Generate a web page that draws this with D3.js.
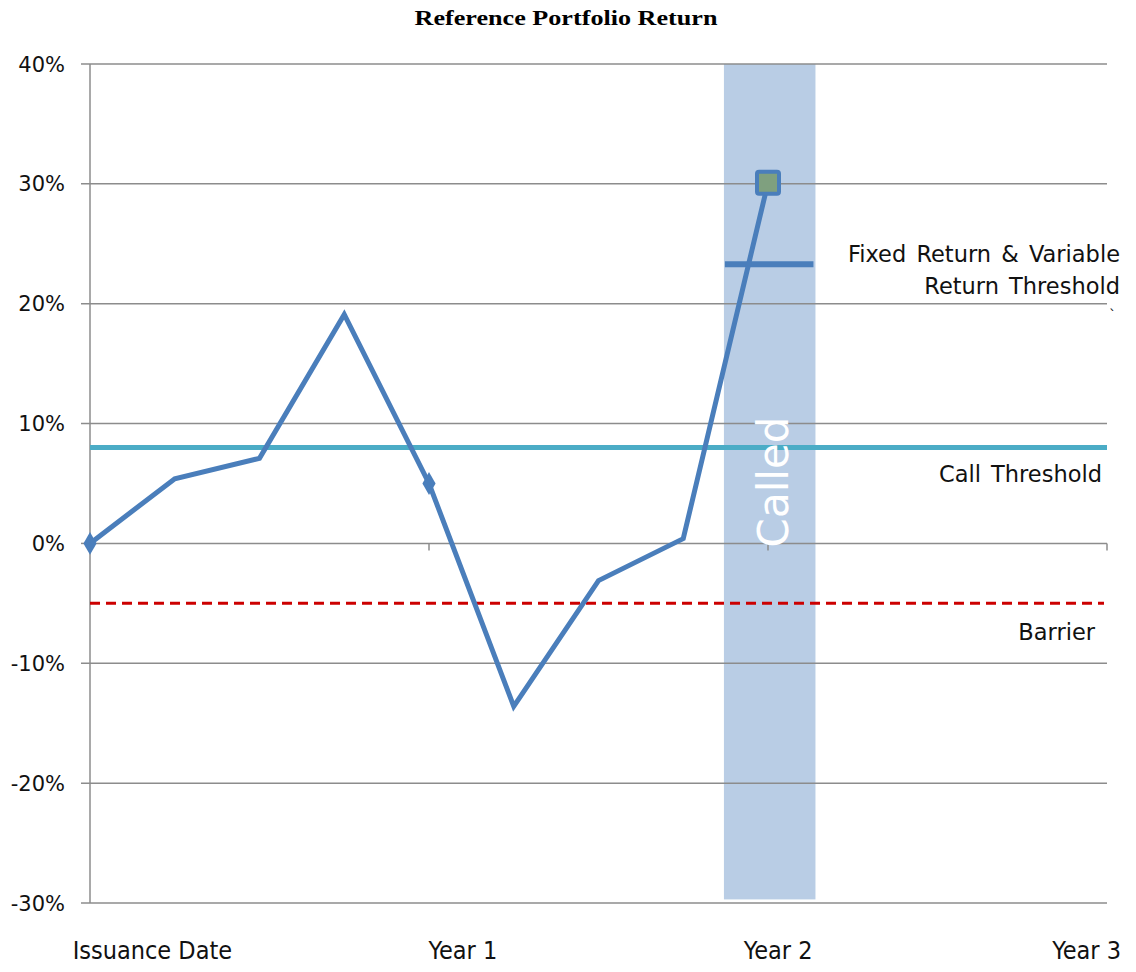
<!DOCTYPE html>
<html><head><meta charset="utf-8">
<script src="https://cdn.jsdelivr.net/npm/d3@7"></script>
<style>body{margin:0;background:#fff}</style>
</head><body>
<svg id="c" width="1136" height="972"></svg>
<script>
// Data
const periods = [0, 0.25, 0.5, 0.75, 1, 1.25, 1.5, 1.75, 2];           // years
const returns = [0, 5.4, 7.1, 19.1, 5.0, -13.6, -3.1, 0.4, 30.1];       // %
const yTicks = [40, 30, 20, 10, 0, -10, -20, -30];
const xTickYears = [0, 1, 2, 3];
const xLabels = ["Issuance Date", "Year 1", "Year 2", "Year 3"];
const xLabelAt = [0.184, 1.10, 2.03, 2.94];   // label centres (years)
const callThreshold = 8;
const barrier = -5;
const fixedReturnThreshold = 23.3;
const calledBand = [1.87, 2.14];   // years

const svg = d3.select("#c");
const x = d3.scaleLinear().domain([0, 3]).range([90, 1107]);
const y = d3.scaleLinear().domain([-30, 40]).range([903, 64]);
const grid = "#8c8c8c";

// title
svg.append("text").attr("x", 566).attr("y", 25).attr("text-anchor", "middle")
  .attr("font-family", "Liberation Serif, Times New Roman, serif").attr("font-weight", "bold")
  .attr("font-size", 21).attr("textLength", 303).attr("lengthAdjust", "spacingAndGlyphs")
  .text("Reference Portfolio Return");

// called band
svg.append("rect").attr("x", x(calledBand[0])).attr("width", x(calledBand[1]) - x(calledBand[0]))
  .attr("y", y(40)).attr("height", y(-29.7) - y(40)).attr("fill", "#b9cde5");

// gridlines
svg.append("g").selectAll("line").data(yTicks.filter(d => d !== 0)).join("line")
  .attr("x1", 81).attr("x2", 1107).attr("y1", d => y(d)).attr("y2", d => y(d))
  .attr("stroke", grid).attr("stroke-width", 1.5);

// y axis
svg.append("line").attr("x1", 90).attr("x2", 90).attr("y1", y(40)).attr("y2", y(-30))
  .attr("stroke", grid).attr("stroke-width", 1.5);
svg.append("line").attr("x1", 81).attr("x2", 90).attr("y1", y(0)).attr("y2", y(0))
  .attr("stroke", grid).attr("stroke-width", 1.5);
svg.append("g").selectAll("text").data(yTicks).join("text")
  .attr("x", 65).attr("y", d => y(d) + 7.5).attr("text-anchor", "end")
  .attr("font-family", "DejaVu Sans, sans-serif").attr("font-size", 21).attr("fill", "#111")
  .text(d => d + "%");

// x axis at 0
svg.append("line").attr("x1", 90).attr("x2", 1107).attr("y1", y(0)).attr("y2", y(0))
  .attr("stroke", grid).attr("stroke-width", 1.5);
svg.append("g").selectAll("line").data(xTickYears.slice(1)).join("line")
  .attr("x1", d => x(d)).attr("x2", d => x(d)).attr("y1", y(0)).attr("y2", y(0) + 7)
  .attr("stroke", grid).attr("stroke-width", 1.5);
svg.append("g").selectAll("text").data(xLabels).join("text")
  .attr("x", (d, i) => x(xLabelAt[i])).attr("y", 959).attr("text-anchor", "middle")
  .attr("font-family", "DejaVu Sans Condensed, DejaVu Sans, sans-serif").attr("font-size", 25).attr("fill", "#111")
  .text(d => d);

// call threshold
svg.append("line").attr("x1", 90).attr("x2", 1107).attr("y1", y(callThreshold)).attr("y2", y(callThreshold))
  .attr("stroke", "#4bacc6").attr("stroke-width", 5);
// barrier
svg.append("line").attr("x1", 90).attr("x2", 1104).attr("y1", y(barrier)).attr("y2", y(barrier))
  .attr("stroke", "#cc0000").attr("stroke-width", 3).attr("stroke-dasharray", "10,6");

// "Called" text
svg.append("text").attr("transform", `translate(${x(2) + 20},${y(0) + 4}) rotate(-90)`)
  .attr("font-family", "DejaVu Sans, sans-serif").attr("font-size", 42).attr("fill", "#fff")
  .text("Called");

// fixed return threshold
svg.append("line").attr("x1", x(calledBand[0]) + 1).attr("x2", x(calledBand[1]) - 2)
  .attr("y1", y(fixedReturnThreshold)).attr("y2", y(fixedReturnThreshold))
  .attr("stroke", "#4a7ebb").attr("stroke-width", 6);

// series
const pts = periods.map((p, i) => [p, returns[i]]);
svg.append("path").datum(pts)
  .attr("d", d3.line().x(d => x(d[0])).y(d => y(d[1])))
  .attr("fill", "none").attr("stroke", "#4a7ebb").attr("stroke-width", 5).attr("stroke-linejoin", "miter");
// diamond markers
svg.append("g").selectAll("path").data([pts[0], pts[4]]).join("path")
  .attr("transform", d => `translate(${x(d[0])},${y(d[1])})`)
  .attr("d", d3.symbol(d3.symbolDiamond, 150)).attr("fill", "#4a7ebb");
// final square
const last = pts[pts.length - 1];
svg.append("rect").attr("x", x(last[0]) - 11).attr("y", y(last[1]) - 11).attr("width", 22).attr("height", 22)
  .attr("rx", 2).attr("fill", "#7fa07f").attr("stroke", "#4a7ebb").attr("stroke-width", 4);

// annotations
const ann = svg.append("g").attr("font-family", "DejaVu Sans, sans-serif").attr("font-size", 22.5)
  .attr("fill", "#111").attr("text-anchor", "end");
ann.append("text").attr("x", 1120).attr("y", 262).attr("word-spacing", 3).text("Fixed Return & Variable");
ann.append("text").attr("x", 1120).attr("y", 294).attr("word-spacing", 3).text("Return Threshold");
ann.append("text").attr("x", 1116).attr("y", 320).attr("font-size", 14).text("`");
ann.append("text").attr("x", 1102).attr("y", 482).attr("word-spacing", 3).text("Call Threshold");
ann.append("text").attr("x", 1095).attr("y", 640).text("Barrier");
</script>
</body></html>
